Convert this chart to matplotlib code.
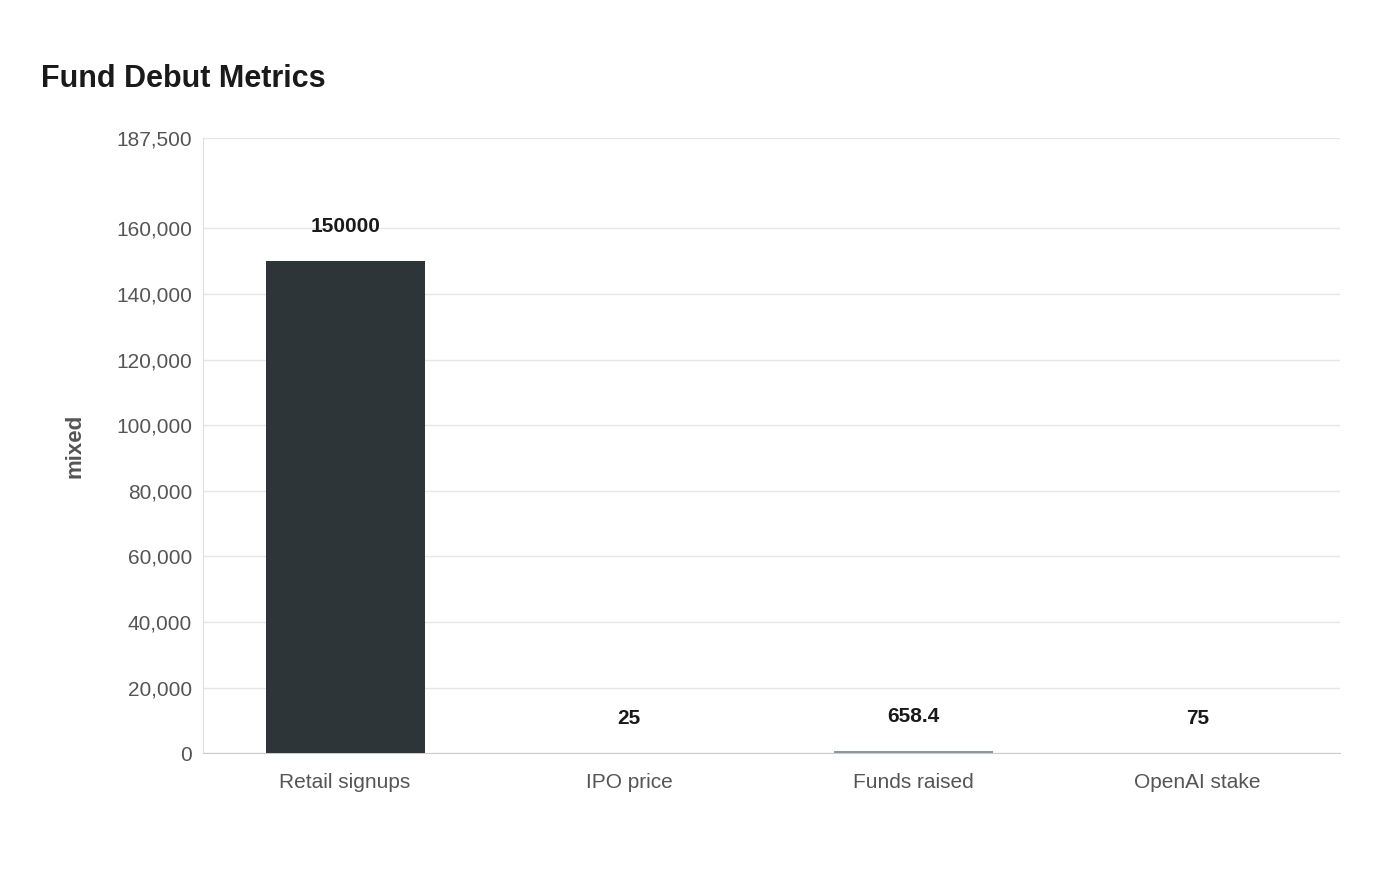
import numpy as np
import matplotlib.pyplot as plt

plt.rcParams['font.family'] = ['Liberation Sans', 'DejaVu Sans']

categories = ['Retail signups', 'IPO price', 'Funds raised', 'OpenAI stake']
values = [150000, 25, 658.4, 75]
labels = ['150000', '25', '658.4', '75']
colors = ['#2e3538', '#7f8c96', '#8a96a0', '#a9b0b5']
yticks = [0, 20000, 40000, 60000, 80000, 100000, 120000, 140000, 160000, 187500]

fig = plt.figure(figsize=(14, 8.8), dpi=100)
ax = fig.add_axes([0.145, 0.144, 0.812, 0.699])

x = np.arange(len(categories))
ax.bar(x, values, width=0.56, color=colors, zorder=3)

for xi, v, lab in zip(x, values, labels):
    ax.annotate(lab, (xi, v), xytext=(0, 18), textcoords='offset points',
                ha='center', va='bottom', fontsize=15, fontweight='bold', color='#1a1a1a')

ax.set_ylim(0, 187500)
ax.set_xlim(-0.5, 3.5)
ax.set_yticks(yticks)
ax.set_yticklabels([f'{t:,}' for t in yticks])
ax.set_xticks(x)
ax.set_xticklabels(categories)
ax.tick_params(axis='both', labelsize=15, colors='#555555', length=0)
ax.tick_params(axis='x', pad=14)
ax.tick_params(axis='y', pad=8)
ax.grid(axis='y', color='#e6e6e6', linewidth=1, zorder=0)

for s in ['top', 'right']:
    ax.spines[s].set_visible(False)
ax.spines['left'].set_color('#dddddd')
ax.spines['bottom'].set_color('#cccccc')

ax.set_ylabel('mixed', fontsize=16, fontweight='bold', color='#555555', labelpad=22)
fig.text(0.029, 0.91, 'Fund Debut Metrics', fontsize=22, fontweight='bold', color='#1a1a1a', va='center')

fig.savefig('out.png', dpi=100, facecolor='white')
